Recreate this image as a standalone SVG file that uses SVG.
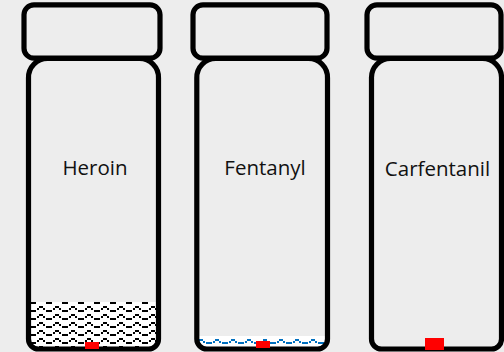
<svg xmlns="http://www.w3.org/2000/svg" width="504" height="352" viewBox="0 0 504 352">
<style>
.v{fill:none;stroke:#000;stroke-width:5.2}
.t{font-family:"Open Sans","Noto Sans",sans-serif;font-size:20.5px;fill:#111;text-anchor:middle}
.r{fill:#f00}
</style>
<defs>
<pattern id="wk" width="16" height="8" patternUnits="userSpaceOnUse" x="33" y="302">
<rect width="16" height="8" fill="#fff"/>
<path d="M0 0h3v2H0zM13 0h3v2h-3zM4 6h2v2H4zM6 4h4v2H6zM10 6h2v2h-2z" fill="#000" shape-rendering="crispEdges"/>
</pattern>
<pattern id="wb" width="16" height="8" patternUnits="userSpaceOnUse" x="193" y="336">
<rect width="16" height="8" fill="#fff"/>
<path d="M0 6h3v2H0zM13 6h3v2h-3zM4 5h2v2H4zM6 3h4v2H6zM10 5h2v2h-2z" fill="#0070c0" shape-rendering="crispEdges"/>
</pattern>
</defs>
<rect width="504" height="352" fill="#ededed"/>
<g id="connectors"/>
<g id="heroin">
<rect x="31" y="302" width="125" height="45" fill="url(#wk)"/>
<rect class="v" x="24" y="4.8" width="136" height="53.4" rx="10"/>
<path class="v" d="M28.5 78a19 19 0 0 1 19-19.500h92a19 19 0 0 1 19 19.500V339a10 10 0 0 1-10 10H38.500a10 10 0 0 1-10-10Z"/>
<rect class="r" x="85" y="342" width="14" height="7"/>
<text class="t" x="95" y="175">Heroin</text>
</g>
<g id="fentanyl">
<rect x="199" y="336" width="126" height="11" fill="url(#wb)"/>
<rect class="v" x="193" y="4.8" width="134" height="53.4" rx="10"/>
<path class="v" d="M196.800 78a19 19 0 0 1 19-19.500h92.700a19 19 0 0 1 19 19.500V339a10 10 0 0 1-10 10H206.800a10 10 0 0 1-10-10Z"/>
<rect class="r" x="256" y="341" width="14" height="7"/>
<text class="t" x="265" y="175">Fentanyl</text>
</g>
<g id="carfentanil">
<rect class="v" x="367" y="4.8" width="134" height="53.4" rx="10"/>
<path class="v" d="M371.500 78a19 19 0 0 1 19-19.500h92a19 19 0 0 1 19 19.500V339a10 10 0 0 1-10 10H381.500a10 10 0 0 1-10-10Z"/>
<rect class="r" x="425" y="338" width="19" height="12"/>
<text class="t" x="437.500" y="176">Carfentanil</text>
</g>
</svg>
